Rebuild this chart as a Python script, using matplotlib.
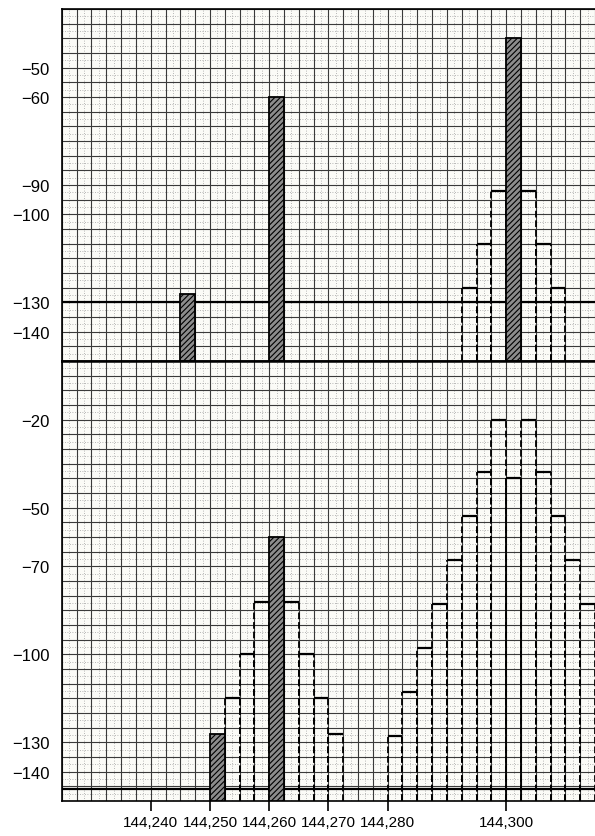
import numpy as np
import matplotlib
matplotlib.use("Agg")
import matplotlib.pyplot as plt

# channel width (kHz) of each bar / step
bw = 2.5

# upper panel
up_carrier_f = [144245, 144260, 144300]
up_carrier_db = [-127, -60, -40]
up_step_f = [144292.5, 144295, 144297.5, 144302.5, 144305, 144307.5]
up_step_db = [-125, -110, -92, -92, -110, -125]
up_ticks = [-50, -60, -90, -100, -130, -140]

# lower panel
lo_carrier_f = [144250, 144260]
lo_carrier_db = [-127, -60]
lo_step_f = [144252.5, 144255, 144257.5, 144262.5, 144265, 144267.5, 144270,
             144280, 144282.5, 144285, 144287.5, 144290, 144292.5, 144295, 144297.5,
             144302.5, 144305, 144307.5, 144310, 144312.5]
lo_step_db = [-115, -100, -82, -82, -100, -115, -127,
              -128, -113, -98, -83, -68, -53, -38, -20,
              -20, -38, -53, -68, -83]
lo_notch_f = [144300]
lo_notch_db = [-40]
lo_ticks = [-20, -50, -70, -100, -130, -140]

x_ticks = [144240, 144250, 144260, 144270, 144280, 144300]
x_labels = ["144,240", "144,250", "144,260", "144,270", "144,280", "144,300"]

plt.rcParams['font.family'] = ['Liberation Sans', 'DejaVu Sans']
plt.rcParams['hatch.linewidth'] = 0.8

fig = plt.figure(figsize=(5.95, 8.37), dpi=100)
fig.patch.set_facecolor('white')
ax1 = fig.add_axes([0.104, 0.5675, 0.896, 0.4205])
ax2 = fig.add_axes([0.104, 0.0418, 0.896, 0.5257])

xmin, xmax = 144225, 144315


def paper(ax, ymin, ymax):
    ax.set_facecolor('#fbfbf7')
    ax.set_xlim(xmin, xmax)
    ax.set_ylim(ymin, ymax)
    for x in np.arange(xmin + bw / 2, xmax, bw):
        ax.axvline(x, color='#a0a0a0', lw=0.6, ls=(0, (1, 2)), zorder=1)
    for y in np.arange(ymin + 2.5, ymax, 5):
        ax.axhline(y, color='#a0a0a0', lw=0.6, ls=(0, (1, 2)), zorder=1)
    for x in np.arange(xmin, xmax + 0.1, bw):
        ax.axvline(x, color='#3a3a3a', lw=0.8, zorder=1)
    for y in np.arange(ymin, ymax + 0.1, 5):
        ax.axhline(y, color='#3a3a3a', lw=0.8, zorder=1)
    for s in ax.spines.values():
        s.set_linewidth(1.2)
    ax.spines['right'].set_visible(False)
    ax.tick_params(axis='y', length=0, pad=9, labelsize=12)


def steps(ax, f, db, ymin, ls_side='--'):
    for x, y in zip(f, db):
        ax.vlines([x, x + bw], ymin, y, colors='black', lw=1.3,
                  linestyles=ls_side, zorder=3)
        ax.hlines(y, x, x + bw, colors='black', lw=1.6, zorder=3)


def carriers(ax, f, db, ymin):
    hts = [d - ymin for d in db]
    ax.bar(f, hts, width=bw, bottom=ymin, align='edge', facecolor='#8c8c8c',
           edgecolor='black', hatch='//////', lw=1.3, zorder=4)


# upper panel
paper(ax1, -150, -30)
ax1.axhline(-130, color='black', lw=1.6, zorder=2)
steps(ax1, up_step_f, up_step_db, -150)
carriers(ax1, up_carrier_f, up_carrier_db, -150)
ax1.set_yticks(up_ticks)
ax1.set_yticklabels(['\u2212' + str(abs(t)) for t in up_ticks])
ax1.set_xticks([])
ax1.spines['bottom'].set_linewidth(1.8)

# lower panel
paper(ax2, -150, 0)
ax2.axhline(-146, color='black', lw=1.6, zorder=2)
steps(ax2, lo_step_f, lo_step_db, -150)
steps(ax2, lo_notch_f, lo_notch_db, -150, ls_side='-')
carriers(ax2, lo_carrier_f, lo_carrier_db, -150)
ax2.set_yticks(lo_ticks)
ax2.set_yticklabels(['\u2212' + str(abs(t)) for t in lo_ticks])
ax2.set_xticks(x_ticks)
ax2.set_xticklabels(x_labels)
ax2.tick_params(axis='x', direction='out', length=7, width=1.2, pad=3,
                labelsize=11)
ax2.spines['top'].set_linewidth(1.8)

fig.savefig('out.png', dpi=100)
